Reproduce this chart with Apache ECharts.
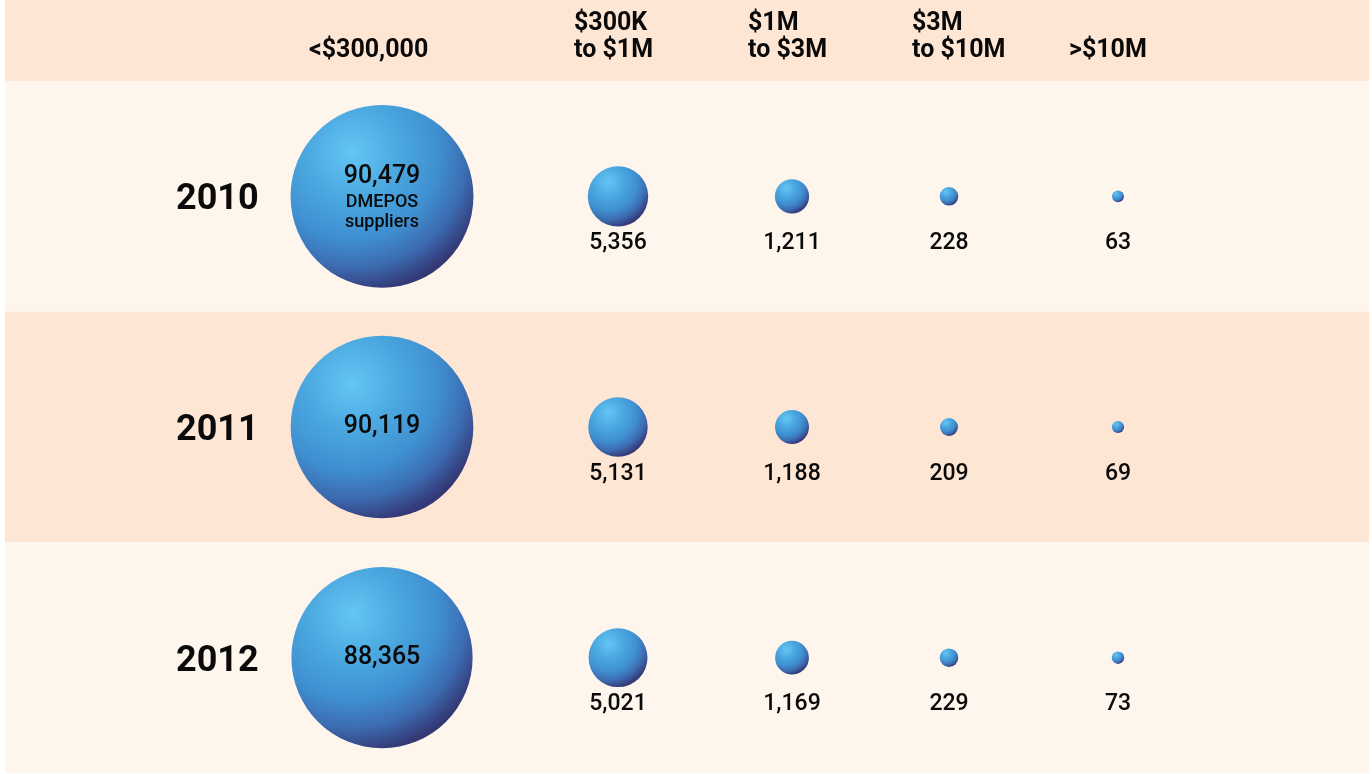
<!DOCTYPE html>
<html>
<head>
<meta charset="utf-8">
<script src="https://cdn.jsdelivr.net/npm/echarts@6/dist/echarts.min.js"></script>
<style>
html,body{margin:0;padding:0;background:#ffffff;}
#chart{width:1372px;height:774px;}
</style>
</head>
<body>
<div id="chart"></div>
<script>
// ---- data ----
const years = ['2010', '2011', '2012'];
const brackets = ['<$300,000', '$300K\nto $1M', '$1M\nto $3M', '$3M\nto $10M', '>$10M'];
const values2010 = [90479, 5356, 1211, 228, 63];
const values2011 = [90119, 5131, 1188, 209, 69];
const values2012 = [88365, 5021, 1169, 229, 73];
const firstNote = ['DMEPOS', 'suppliers'];

// ---- layout (not data) ----
const colCenters = [382, 618, 792, 949, 1118];
const headerLeft = [309, 574, 748, 912, 1069];
const FONT = "Roboto, 'Liberation Sans', sans-serif";
const LIGHT = '#FEF5EC', PEACH = '#FEE6D5';

const rows = [values2010, values2011, values2012];
const fmt = v => v.toLocaleString('en-US');

const bubbleColor = {
  type: 'radial', x: 0.34, y: 0.26, r: 0.82,
  colorStops: [
    {offset: 0, color: '#64C6F4'},
    {offset: 0.32, color: '#4AA7DF'},
    {offset: 0.58, color: '#3F8FD0'},
    {offset: 0.77, color: '#3C6BB0'},
    {offset: 0.91, color: '#35407F'},
    {offset: 1, color: '#2F2D62'}
  ]
};

const data = [];
rows.forEach((vals, ri) => {
  vals.forEach((v, ci) => {
    const item = {value: [colCenters[ci], years[ri], v]};
    if (ci === 0) {
      let f = '{a|' + fmt(v) + '}';
      if (ri === 0) f += '\n' + firstNote.map(s => '{b|' + s + '}').join('\n');
      item.label = {
        show: true, position: 'inside', formatter: f,
        rich: {
          a: {fontFamily: FONT, fontWeight: 500, fontSize: 25, color: '#0a0a0a', lineHeight: 33},
          b: {fontFamily: FONT, fontWeight: 500, fontSize: 18, color: '#0a0a0a', lineHeight: 20}
        }
      };
    } else {
      item.label = {
        show: true, position: 'inside', offset: [0, 47],
        formatter: fmt(v), fontFamily: FONT, fontWeight: 500, fontSize: 23, color: '#0a0a0a'
      };
    }
    data.push(item);
  });
});

const graphics = [{
  type: 'rect', shape: {x: 5, y: 0, width: 1364, height: 81},
  style: {fill: PEACH}, z: -1, silent: true
}];
brackets.forEach((b, i) => {
  graphics.push({
    type: 'text', x: headerLeft[i], y: 64,
    style: {text: b, fontFamily: FONT, fontWeight: 'bold', fontSize: 25, lineHeight: 27,
            fill: '#0a0a0a', textAlign: 'left', textVerticalAlign: 'bottom'}
  });
});

const chart = echarts.init(document.getElementById('chart'), null, {renderer: 'canvas'});
chart.setOption({
  backgroundColor: '#ffffff',
  animation: false,
  grid: {left: 5, right: 3, top: 81, bottom: 1, containLabel: false},
  xAxis: {
    type: 'value', min: 5, max: 1369,
    show: false, splitLine: {show: false}
  },
  yAxis: {
    type: 'category', data: years, inverse: true,
    axisLine: {show: false}, axisTick: {show: false},
    axisLabel: {
      inside: true, margin: 171,
      formatter: v => '{y|' + v + '}',
      rich: {y: {fontFamily: FONT, fontWeight: 'bold', fontSize: 36, color: '#0a0a0a', padding: [8, 0, 0, 0]}}
    },
    splitLine: {show: false},
    splitArea: {show: true, areaStyle: {color: [LIGHT, PEACH]}}
  },
  graphic: graphics,
  series: [{
    type: 'scatter',
    data: data,
    symbol: 'circle',
    symbolSize: d => 2 + 1.883 * Math.pow(d[2], 0.4),
    itemStyle: {color: bubbleColor, opacity: 1},
    emphasis: {disabled: true}
  }]
});
</script>
</body>
</html>
